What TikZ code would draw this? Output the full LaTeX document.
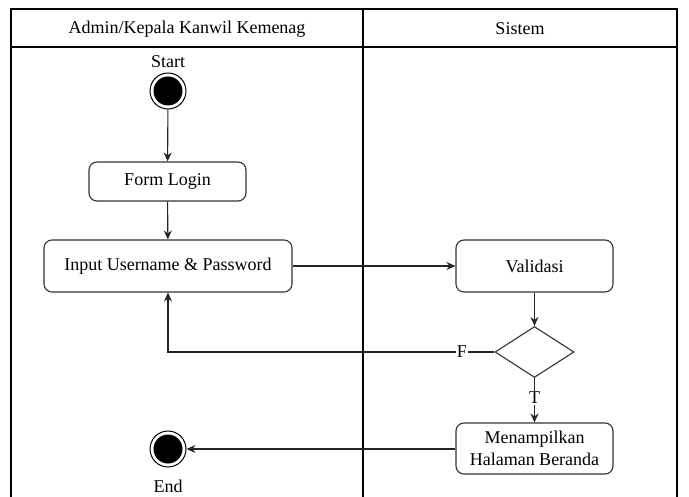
\documentclass[tikz,border=0pt]{standalone}
\usepackage{fontspec}
\setmainfont{Liberation Serif}
\usetikzlibrary{arrows.meta,shapes.geometric}
\begin{document}
\begin{tikzpicture}[x=1pt,y=-1pt,
  every node/.style={font=\fontsize{18}{22}\selectfont},
  frame/.style={line width=1.1pt, black},
  actbox/.style={draw=black!80, line width=1.1pt, rounded corners=8pt, inner sep=0pt, align=center},
  decbox/.style={draw=black!80, line width=1.1pt, diamond, inner sep=0pt, minimum width=79pt, minimum height=51pt},
  terminal/.style={circle, draw=black, line width=1pt, minimum size=36pt, inner sep=0pt,
    path picture={\fill[black] (path picture bounding box.center) circle (14.5pt);}},
  flow/.style={draw=black!85, line width=1.1pt, -{Stealth[length=9pt,width=8pt]}},
  lbl/.style={fill=white, inner sep=1pt}
]
\useasboundingbox (0,0) rectangle (689,497);
\fill[white] (0,0) rectangle (689,497);
% swimlane frame
\draw[frame] (11,497) -- (11,9) -- (677,9) -- (677,497);
\draw[frame] (11,47) -- (677,47);
\draw[frame] (363,9) -- (363,497);
\node (lane1) at (187,29) {Admin/Kepala Kanwil Kemenag};
\node (lane2) at (520,29) {Sistem};
% nodes
\node (startlbl) at (168,62) {Start};
\node[terminal] (start) at (168,91) {};
\node[actbox, minimum width=157pt, minimum height=39pt] (form) at (167.5,181.5) {Form Login};
\node[actbox, minimum width=248pt, minimum height=52pt] (input) at (168,266) {Input Username \& Password};
\node[actbox, minimum width=157pt, minimum height=52pt] (valid) at (534.5,266) {Validasi};
\node[decbox] (dec) at (534.5,352) {};
\node[actbox, minimum width=157pt, minimum height=51pt] (show) at (534.5,448.5) {Menampilkan\\Halaman Beranda};
\node[terminal] (end) at (168,449) {};
\node (endlbl) at (168,486) {End};
% connectors
\draw[flow] (start) -- (form);
\draw[flow] (form) -- (input);
\draw[flow] (input) -- (valid);
\draw[flow] (valid) -- (dec);
\draw[flow] (dec.west) -- node[lbl, pos=0.1] {F} (168,352) -- (input.south);
\draw[flow] (dec.south) -- node[lbl, pos=0.45] {T} (show.north);
\draw[flow] (show.west |- end) -- (end);
\end{tikzpicture}
\end{document}
